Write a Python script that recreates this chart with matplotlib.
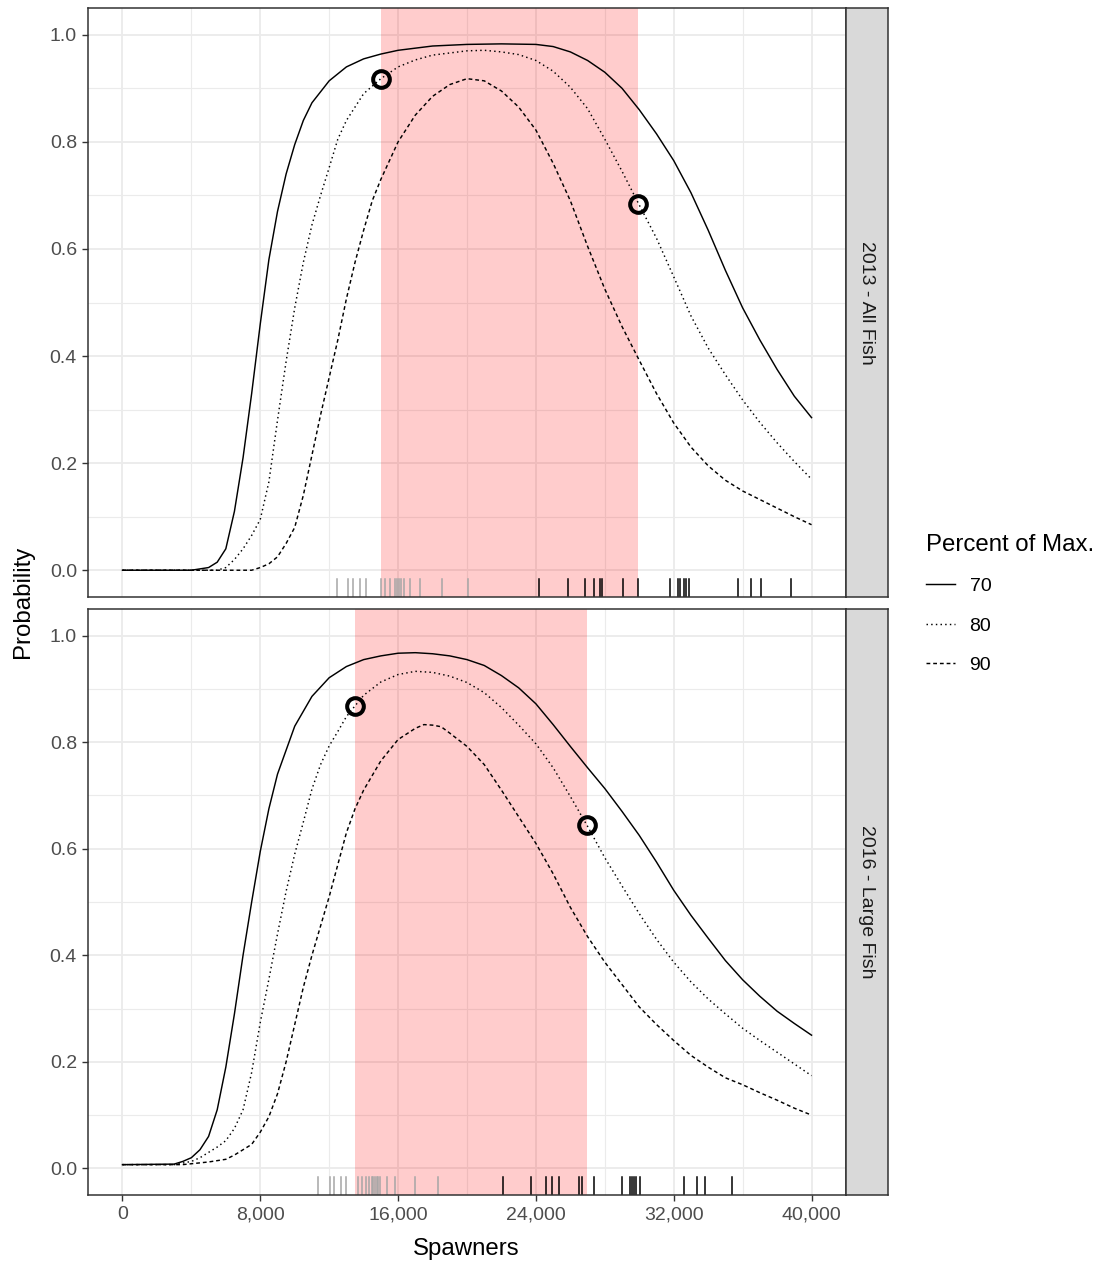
import matplotlib
matplotlib.use("Agg")
import matplotlib.pyplot as plt
from matplotlib.lines import Line2D
from matplotlib.ticker import FuncFormatter, MultipleLocator

plt.rcParams['font.family'] = ['Liberation Sans', 'DejaVu Sans']

# ---------------- data ----------------
panel_labels = ["2013 - All Fish", "2016 - Large Fish"]
legend_title = "Percent of Max."
levels = ["70", "80", "90"]

# 2013 - All Fish
x13_70 = [0, 4000, 5000, 5500, 6000, 6500, 7000, 7500, 8000, 8500, 9000, 9500, 10000, 10500, 11000, 12000, 13000,
          14000, 15000, 16000, 18000, 20000, 22000, 24000, 25000, 26000, 27000, 28000, 29000, 30000, 31000, 32000,
          33000, 34000, 35000, 36000, 37000, 38000, 39000, 40000]
y13_70 = [0, 0, 0.005, 0.015, 0.04, 0.11, 0.21, 0.33, 0.46, 0.58, 0.67, 0.74, 0.795, 0.84, 0.873, 0.914, 0.94,
          0.955, 0.964, 0.971, 0.979, 0.982, 0.983, 0.982, 0.978, 0.968, 0.952, 0.93, 0.9, 0.86, 0.815, 0.765,
          0.705, 0.635, 0.56, 0.49, 0.43, 0.375, 0.325, 0.285]
x13_80 = [0, 5500, 6000, 6500, 7000, 7500, 8000, 8500, 9000, 9500, 10000, 10500, 11000, 11500, 12000, 12500, 13000,
          14000, 15000, 16000, 17000, 18000, 20000, 21000, 22000, 23000, 24000, 25000, 26000, 27000, 28000, 29000,
          30000, 31000, 32000, 33000, 34000, 35000, 36000, 37000, 38000, 39000, 40000]
y13_80 = [0, 0, 0.005, 0.02, 0.04, 0.065, 0.095, 0.165, 0.28, 0.39, 0.49, 0.575, 0.645, 0.70, 0.752, 0.805, 0.84,
          0.89, 0.918, 0.94, 0.953, 0.962, 0.97, 0.971, 0.968, 0.963, 0.952, 0.932, 0.902, 0.862, 0.805, 0.745,
          0.682, 0.62, 0.548, 0.475, 0.415, 0.365, 0.318, 0.276, 0.238, 0.203, 0.17]
x13_90 = [0, 7500, 8000, 8500, 9000, 9500, 10000, 10500, 11000, 11500, 12000, 12500, 13000, 13500, 14000, 14500,
          15000, 16000, 17000, 18000, 19000, 20000, 21000, 22000, 23000, 24000, 25000, 26000, 27000, 28000, 29000,
          30000, 31000, 32000, 33000, 34000, 35000, 36000, 37000, 38000, 39000, 40000]
y13_90 = [0, 0, 0.005, 0.012, 0.025, 0.05, 0.08, 0.14, 0.215, 0.29, 0.36, 0.43, 0.507, 0.575, 0.635, 0.69,
          0.73, 0.8, 0.85, 0.885, 0.907, 0.918, 0.914, 0.895, 0.865, 0.822, 0.76, 0.69, 0.605, 0.525, 0.455,
          0.392, 0.33, 0.275, 0.23, 0.195, 0.168, 0.148, 0.132, 0.116, 0.1, 0.085]

# 2016 - Large Fish
x16_70 = [0, 3000, 3500, 4000, 4500, 5000, 5500, 6000, 6500, 7000, 7500, 8000, 8500, 9000, 9500, 10000, 11000,
          12000, 13000, 14000, 15000, 16000, 17000, 18000, 19000, 20000, 21000, 22000, 23000, 24000, 25000, 26000,
          27000, 28000, 29000, 30000, 31000, 32000, 33000, 34000, 35000, 36000, 37000, 38000, 39000, 40000]
y16_70 = [0.007, 0.008, 0.013, 0.02, 0.035, 0.06, 0.11, 0.19, 0.29, 0.4, 0.5, 0.595, 0.675, 0.74, 0.785, 0.83,
          0.886, 0.921, 0.942, 0.955, 0.962, 0.967, 0.968, 0.966, 0.962, 0.955, 0.944, 0.925, 0.902, 0.872, 0.833,
          0.792, 0.752, 0.713, 0.67, 0.625, 0.575, 0.522, 0.475, 0.432, 0.39, 0.354, 0.323, 0.295, 0.272, 0.25]
x16_80 = [0, 3000, 4000, 4500, 5000, 5500, 6000, 6500, 7000, 7500, 8000, 8500, 9000, 9500, 10000, 10500, 11000,
          11500, 12000, 12500, 13000, 13470, 14000, 15000, 16000, 17000, 18000, 19000, 20000, 21000, 22000, 23000,
          24000, 25000, 26000, 27000, 28000, 29000, 30000, 31000, 32000, 33000, 34000, 35000, 36000, 37000, 38000,
          39000, 40000]
y16_80 = [0.007, 0.007, 0.013, 0.02, 0.03, 0.04, 0.052, 0.075, 0.11, 0.18, 0.274, 0.355, 0.44, 0.52, 0.59, 0.65,
          0.712, 0.758, 0.793, 0.82, 0.848, 0.867, 0.888, 0.913, 0.927, 0.933, 0.931, 0.924, 0.912, 0.893, 0.865,
          0.832, 0.797, 0.752, 0.698, 0.642, 0.583, 0.53, 0.478, 0.43, 0.387, 0.35, 0.318, 0.29, 0.263, 0.24,
          0.218, 0.196, 0.174]
x16_90 = [0, 3500, 5000, 6000, 6500, 7000, 7500, 8000, 8500, 9000, 9500, 10000, 10500, 11000, 11500, 12000, 12500,
          13000, 13500, 14000, 15000, 16000, 17000, 17500, 18000, 18500, 19000, 20000, 21000, 22000, 23000, 24000,
          25000, 26000, 27000, 28000, 29000, 30000, 31000, 32000, 33000, 34000, 35000, 36000, 37000, 38000, 39000,
          40000]
y16_90 = [0.007, 0.007, 0.012, 0.017, 0.025, 0.035, 0.045, 0.068, 0.097, 0.14, 0.2, 0.27, 0.34, 0.4, 0.455,
          0.51, 0.57, 0.63, 0.675, 0.71, 0.765, 0.805, 0.826, 0.833, 0.832, 0.829, 0.817, 0.792, 0.758, 0.71, 0.66,
          0.61, 0.553, 0.49, 0.435, 0.387, 0.345, 0.303, 0.27, 0.24, 0.212, 0.19, 0.17, 0.157, 0.142, 0.128,
          0.113, 0.1]

# optimal ranges (shaded) and points on the 80% curve
range13 = [15000, 29900]
range16 = [13470, 26950]
pts13_x = [15000, 29900]
pts13_y = [0.918, 0.684]
pts16_x = [13470, 26950]
pts16_y = [0.867, 0.645]

# observed spawners (rug)
rug13_grey = [12458, 13096, 13395, 13794, 14152, 14990, 15249, 15528, 15847, 15946, 16046, 16146, 16325, 16684,
              17282, 18537, 20072]
rug13_black = [24157, 25891, 26848, 27346, 27744, 27844, 29080, 29937, 31771, 32229, 32389, 32588, 32727, 32887,
               35717, 36474, 37072, 38806]
rug16_grey = [11375, 12050, 12300, 12686, 12975, 13649, 13880, 14131, 14324, 14458, 14550, 14650, 14750, 14843,
              14960, 15345, 15807, 16983, 18332]
rug16_black = [22070, 23727, 24575, 24960, 25365, 26521, 26656, 27369, 29007, 29450, 29585, 29700, 29835, 30028,
               32591, 33343, 33844, 35385]

xticks = [0, 8000, 16000, 24000, 32000, 40000]
yticks = [0.0, 0.2, 0.4, 0.6, 0.8, 1.0]

# ---------------- figure ----------------
W, H = 1096, 1264
fig = plt.figure(figsize=(W / 100, H / 100), dpi=100)

def fx(px):
    return px / W

def fy(py):
    return 1 - py / H

panels = [
    dict(top=8, bottom=597, curves=[(x13_70, y13_70), (x13_80, y13_80), (x13_90, y13_90)], rng=range13,
         px=pts13_x, py=pts13_y, rg=rug13_grey, rb=rug13_black, label=panel_labels[0]),
    dict(top=609, bottom=1195, curves=[(x16_70, y16_70), (x16_80, y16_80), (x16_90, y16_90)], rng=range16,
         px=pts16_x, py=pts16_y, rg=rug16_grey, rb=rug16_black, label=panel_labels[1]),
]

styles = ['-', (0, (1, 2.2)), (0, (2.6, 2.0))]
left_px, right_px, strip_right = 88, 846, 888
tick_col = '#4D4D4D'
frame_col = '#333333'
grid_col = '#EBEBEB'
small_fs = 14
big_fs = 17.3

axes = []
for i, p in enumerate(panels):
    ax = fig.add_axes([fx(left_px), fy(p['bottom']), fx(right_px - left_px), (p['bottom'] - p['top']) / H])
    axes.append(ax)
    ax.set_xlim(-2000, 42000)
    ax.set_ylim(-0.05, 1.05)
    ax.xaxis.set_major_locator(MultipleLocator(8000))
    ax.xaxis.set_minor_locator(MultipleLocator(4000))
    ax.yaxis.set_major_locator(MultipleLocator(0.2))
    ax.yaxis.set_minor_locator(MultipleLocator(0.1))
    ax.grid(True, which='major', color=grid_col, linewidth=1.3, zorder=0)
    ax.grid(True, which='minor', color=grid_col, linewidth=0.8, zorder=0)
    ax.set_axisbelow(True)
    ax.tick_params(which='minor', length=0)
    ax.tick_params(which='major', length=4, width=1.0, color=frame_col, labelcolor=tick_col,
                   labelsize=small_fs, pad=4)
    for s in ax.spines.values():
        s.set_color(frame_col)
        s.set_linewidth(1.1)
    ax.set_yticks(yticks)
    ax.yaxis.set_major_formatter(FuncFormatter(lambda v, pos: f"{v:.1f}"))
    ax.set_xticks(xticks)
    if i == 0:
        ax.tick_params(axis='x', which='both', length=0, labelbottom=False)
    else:
        ax.xaxis.set_major_formatter(FuncFormatter(lambda v, pos: f"{v:,.0f}"))

    ax.axvspan(p['rng'][0], p['rng'][1], color='red', alpha=0.2, linewidth=0, zorder=1)
    for (xs, ys), ls in zip(p['curves'], styles):
        ax.plot(xs, ys, color='black', linestyle=ls, linewidth=1.05, zorder=3)
    ax.plot(p['px'], p['py'], linestyle='none', marker='o', markersize=12, markerfacecolor='none',
            markeredgecolor='black', markeredgewidth=2.9, zorder=4)
    for xv in p['rg']:
        ax.axvline(xv, ymin=0, ymax=0.03, color='#A6A6A6', linewidth=1.1, zorder=2)
    for xv in p['rb']:
        ax.axvline(xv, ymin=0, ymax=0.03, color='black', linewidth=1.1, zorder=2)

    # facet strip
    sax = fig.add_axes([fx(right_px), fy(p['bottom']), fx(strip_right - right_px), (p['bottom'] - p['top']) / H])
    sax.set_facecolor('#D9D9D9')
    sax.set_xticks([])
    sax.set_yticks([])
    for s in sax.spines.values():
        s.set_color(frame_col)
        s.set_linewidth(1.1)
    sax.text(0.5, 0.5, p['label'], rotation=-90, ha='center', va='center', fontsize=small_fs, color='#1A1A1A',
             transform=sax.transAxes)

fig.text(fx(466), fy(1249), "Spawners", ha='center', va='center', fontsize=big_fs, color='black')
fig.text(fx(23), fy(602), "Probability", ha='center', va='center', rotation=90, fontsize=big_fs, color='black')

handles = [Line2D([0], [0], color='black', linestyle=ls, linewidth=1.05) for ls in styles]
leg = fig.legend(handles, levels, title=legend_title, loc='upper left',
                 bbox_to_anchor=(fx(918), fy(526)), frameon=False, fontsize=small_fs, title_fontsize=big_fs,
                 handlelength=1.5, handletextpad=0.75, labelspacing=1.12, alignment='left', borderaxespad=0)

fig.savefig("out.png", dpi=100)
